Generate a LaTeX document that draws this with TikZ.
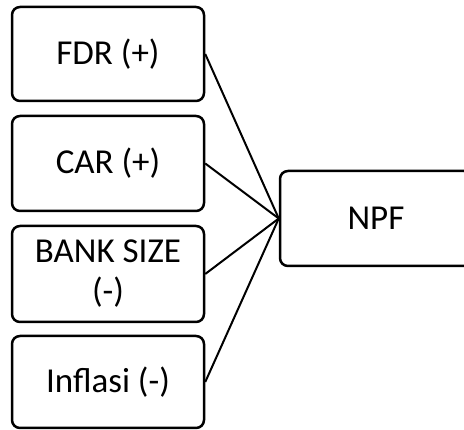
\documentclass[tikz,border=0pt]{standalone}
\usepackage{fontspec}
\setmainfont{Carlito}
\begin{document}
\begin{tikzpicture}[x=1pt,y=1pt,
  box/.style={draw, line width=2.5pt, rounded corners=8pt, minimum width=192pt, inner sep=0pt, align=center, font=\fontsize{35}{40}\selectfont},
  link/.style={line width=2pt}]
\useasboundingbox (0,0) rectangle (464,430);
\node[box, minimum height=94pt] (fdr) at (108,376) {FDR (+)};
\node[box, minimum height=95pt] (car) at (108,266.5) {CAR (+)};
\node[box, minimum height=96pt] (size) at (108,156) {BANK SIZE\\(-)};
\node[box, minimum height=92pt] (inf) at (108,48) {Inflasi (-)};
\node[box, minimum height=95pt] (npf) at (376,211.5) {NPF};
\draw[link] (fdr.east) -- (npf.west);
\draw[link] (car.east) -- (npf.west);
\draw[link] (size.east) -- (npf.west);
\draw[link] (inf.east) -- (npf.west);
\end{tikzpicture}
\end{document}
